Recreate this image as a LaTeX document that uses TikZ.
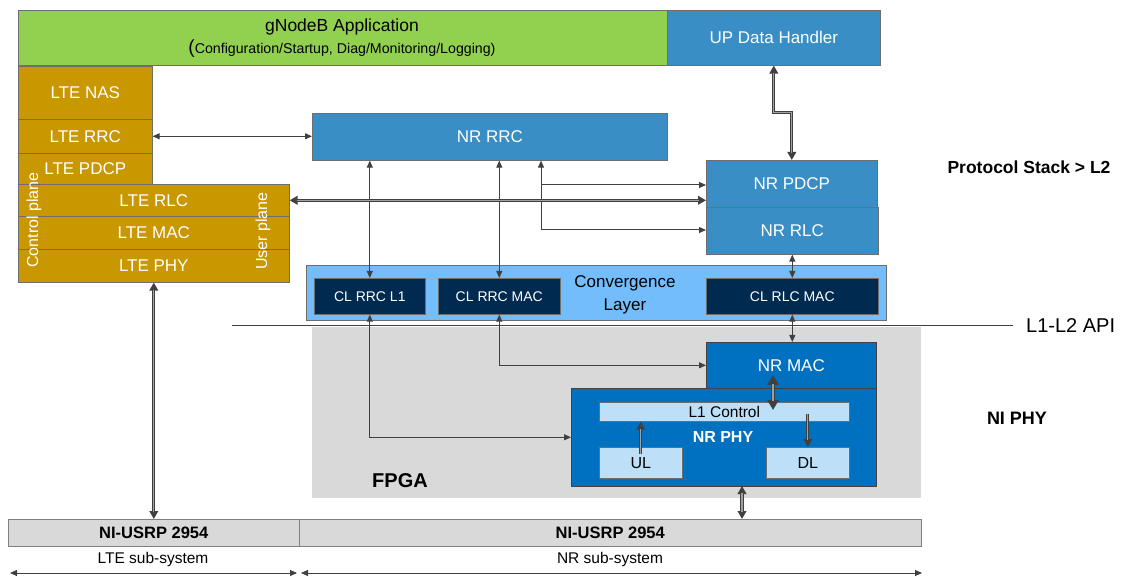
\documentclass[tikz,border=0pt]{standalone}
\usepackage{fontspec}
\setmainfont{Liberation Sans}
\usetikzlibrary{arrows.meta,calc}
\definecolor{cgreen}{RGB}{146,208,80}
\definecolor{cblue}{RGB}{57,142,198}
\definecolor{cgold}{RGB}{201,151,0}
\definecolor{cmac}{RGB}{0,112,192}
\definecolor{cconv}{RGB}{116,189,252}
\definecolor{cnavy}{RGB}{0,42,80}
\definecolor{clt}{RGB}{189,224,248}
\definecolor{cgray}{RGB}{217,217,217}
\definecolor{carr}{RGB}{64,64,64}
\definecolor{cbord}{RGB}{110,110,110}
\definecolor{cinner}{RGB}{160,160,160}
\newcommand\fsz[2]{\fontsize{#1}{#2}\selectfont}
\begin{document}
\begin{tikzpicture}[x=1pt,y=-1pt,
  blk/.style={draw=cbord, line width=0.6pt, inner sep=0pt, anchor=north west, text=white, font=\fsz{17}{20}, align=center},
  txt/.style={inner sep=0pt, text=black, align=center},
  tipA/.tip={Triangle[length=7pt,width=6pt]},
  tipB/.tip={Triangle[length=8pt,width=8.5pt]},
  tipC/.tip={Triangle[length=10pt,width=11pt]},
  arr/.style={draw=carr, line width=1pt, tipA-tipA},
  arrs/.style={draw=carr, line width=1pt, -tipA},
  dbl/.style={draw=carr, line width=3.2pt, tipB-tipB, postaction={draw=cinner, line width=1.3pt, -, shorten <=7pt, shorten >=7pt}},
  dbls/.style={draw=carr, line width=3.2pt, -tipB, postaction={draw=cinner, line width=1.3pt, -, shorten >=7pt}},
  dblbig/.style={draw=carr, line width=4pt, tipC-tipC, postaction={draw=cinner, line width=1.8pt, -, shorten <=9pt, shorten >=9pt}},
]
\useasboundingbox (0,0) rectangle (1128,577);

% top application
\node[blk, fill=cgreen, minimum width=649pt, minimum height=55pt] (app) at (18,10) {};
\node[txt, font=\fsz{17.5}{20}] (apptitle) at (342,27) {gNodeB Application};
\node[txt] (appsub) at (342,49) {{\fsz{19}{20}(}{\fsz{14.2}{16}Configuration/Startup, Diag/Monitoring/Logging)}};
\node[blk, fill=cblue, minimum width=213pt, minimum height=55pt] (updh) at (667,10) {UP Data Handler};

% LTE stack
\node[blk, fill=cgold, minimum width=134pt, minimum height=53pt] (ltenas) at (18,66) {LTE NAS};
\node[blk, fill=cgold, minimum width=134pt, minimum height=34pt] (lterrc) at (18,119) {LTE RRC};
\node[blk, fill=cgold, minimum width=134pt, minimum height=31pt] (ltepdcp) at (18,153) {LTE PDCP};
\node[blk, fill=cgold, minimum width=271pt, minimum height=32pt] (lterlc) at (18,184) {LTE RLC};
\node[blk, fill=cgold, minimum width=271pt, minimum height=33pt] (ltemac) at (18,216) {LTE MAC};
\node[blk, fill=cgold, minimum width=271pt, minimum height=33pt] (ltephy) at (18,249) {LTE PHY};
\node[txt, text=white, rotate=90, font=\fsz{16}{18}] (cplane) at (34,220) {Control plane};
\node[txt, text=white, rotate=90, font=\fsz{16}{18}] (uplane) at (263,231) {User plane};

% NR L2
\node[blk, fill=cblue, minimum width=355pt, minimum height=47pt] (nrrrc) at (312,113) {NR RRC};
\node[blk, fill=cblue, minimum width=171pt, minimum height=47pt] (nrpdcp) at (706,160) {NR PDCP};
\node[blk, fill=cblue, minimum width=172pt, minimum height=47pt] (nrrlc) at (706,207) {NR RLC};

% FPGA region
\node[blk, draw=none, fill=cgray, minimum width=609pt, minimum height=171pt] (fpga) at (312,327) {};
\node[txt, font=\bfseries\fsz{20}{22}] (fpgalbl) at (400,481) {FPGA};

% Convergence layer
\node[blk, draw=cbord, fill=cconv, minimum width=580pt, minimum height=55pt] (conv) at (306,265) {};
\node[blk, fill=cnavy, font=\fsz{14}{16}, minimum width=111pt, minimum height=36pt] (clrrcl1) at (314,278) {CL RRC L1};
\node[blk, fill=cnavy, font=\fsz{14}{16}, minimum width=122pt, minimum height=36pt] (clrrcmac) at (438,278) {CL RRC MAC};
\node[blk, fill=cnavy, font=\fsz{14}{16}, minimum width=172pt, minimum height=36pt] (clrlcmac) at (706,278) {CL RLC MAC};
\node[txt, font=\fsz{17}{23}] (convlbl) at (625,295) {Convergence\\Layer};

% API line
\coordinate (apiL) at (232,326);
\coordinate (apiR) at (1013,326);
\draw[carr, line width=1pt] (apiL) -- (apiR);
\node[txt, anchor=west, font=\fsz{20}{22}] (api) at (1026,326) {L1-L2 API};

% NR MAC / PHY
\node[blk, draw=cbord!60!black, fill=cmac, minimum width=170pt, minimum height=46pt] (nrmac) at (706,342) {NR MAC};
\node[blk, draw=cbord!60!black, fill=cmac, minimum width=305pt, minimum height=98pt] (nrphy) at (571,388) {};
\node[blk, fill=clt, text=black, font=\fsz{15.5}{17}, minimum width=250pt, minimum height=19pt] (l1c) at (599,402) {L1 Control};
\node[txt, text=white, font=\bfseries\fsz{16}{18}] (nrphylbl) at (723,437) {NR PHY};
\node[blk, fill=clt, text=black, font=\fsz{16}{18}, minimum width=83pt, minimum height=31pt] (ul) at (599,447) {UL};
\node[blk, fill=clt, text=black, font=\fsz{16}{18}, minimum width=83pt, minimum height=31pt] (dl) at (766,447) {DL};

% USRP
\node[blk, draw=gray, fill=cgray, text=black, font=\bfseries\fsz{16.5}{18}, minimum width=291pt, minimum height=27pt] (usrpL) at (8,519) {NI-USRP 2954};
\node[blk, draw=gray, fill=cgray, text=black, font=\bfseries\fsz{16.5}{18}, minimum width=622pt, minimum height=27pt] (usrpR) at (299,519) {NI-USRP 2954};
\node[txt, font=\fsz{15.5}{17}] (ltesub) at (153,559) {LTE sub-system};
\node[txt, font=\fsz{15.5}{17}] (nrsub) at (610,559) {NR sub-system};

% side labels
\node[txt, font=\bfseries\fsz{17.5}{20}] (psl2) at (1029,167) {Protocol Stack > L2};
\node[txt, font=\bfseries\fsz{18}{20}] (niphy) at (1017,418) {NI PHY};

% connectors
\draw[arr] (lterrc.east) -- (nrrrc.west |- lterrc.east);
\draw[arr] (nrrrc.south -| clrrcl1.north) -- (clrrcl1.north);
\draw[arr] (nrrrc.south -| clrrcmac.north) -- (clrrcmac.north);
\coordinate (br) at (541,230);
\coordinate (bp) at (541,185);
\draw[arr] (nrrrc.south -| br) -- (br) -- (nrrlc.west |- br);
\draw[arrs] (bp) -- (nrpdcp.west |- bp);
\draw[dbl] (lterlc.east) -- (nrpdcp.west |- lterlc.east);
\draw[dbl] (updh.south) -- ++(0,47) -| (nrpdcp.north);
\draw[arr] (nrrlc.south) -- (clrlcmac.north);
\draw[arr] (clrlcmac.south) -- (nrmac.north -| clrlcmac.south);
\draw[arr] (clrrcl1.south) |- (nrphy.west);
\draw[arr] (clrrcmac.south) |- (nrmac.west);
\coordinate (m1) at (773,375);
\coordinate (m2) at (773,410);
\draw[dblbig] (m1) -- (m2);
\draw[dbls] ($(ul.north)+(0,7)$) -- (l1c.south -| ul.north);
\draw[dbls] ($(l1c.south -| dl.north)+(0,-8)$) -- (dl.north);
\coordinate (pu) at (742,486);
\draw[dbl] (pu) -- (pu |- usrpR.north);
\draw[dbl] (ltephy.south) -- (usrpL.north);
\coordinate (bl1) at (10,573);
\coordinate (bl2) at (297,573);
\coordinate (br1) at (301,573);
\coordinate (br2) at (922,573);
\draw[arr, line width=0.8pt] (bl1) -- (bl2);
\draw[arr, line width=0.8pt] (br1) -- (br2);
\end{tikzpicture}
\end{document}
